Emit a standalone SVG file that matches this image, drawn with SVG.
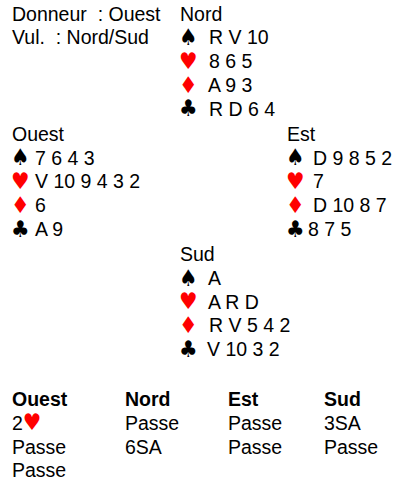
<svg xmlns="http://www.w3.org/2000/svg" width="398" height="484" viewBox="0 0 398 484">
<style>
text{font-family:"Liberation Sans",Arial,sans-serif;font-size:19.5px;fill:#000;white-space:pre}
.s{font-family:"DejaVu Sans Condensed","DejaVu Sans",sans-serif;font-size:23px}
.r{fill:#ff0000}
.b{font-weight:bold}
</style>
<rect width="398" height="484" fill="#fff"/>
<g id="info">
<text x="12" y="20.5">Donneur  : Ouest</text>
<text x="12" y="44.3">Vul.  : Nord/Sud</text>
</g>
<g id="nord">
<text x="180" y="20.5">Nord</text>
<text class="s" x="179" y="45">♠</text><text x="209" y="44.3">R V 10</text>
<text class="s r" x="179" y="68.8">♥</text><text x="209" y="68.1">8 6 5</text>
<text class="s r" x="179" y="92.6">♦</text><text x="208" y="91.9">A 9 3</text>
<text class="s" x="179" y="116.4">♣</text><text x="209" y="115.7">R D 6 4</text>
</g>
<g id="ouest">
<text x="12" y="140.7">Ouest</text>
<text class="s" x="11" y="165.2">♠</text><text x="35" y="164.5">7 6 4 3</text>
<text class="s r" x="11" y="189">♥</text><text x="35" y="188.3">V 10 9 4 3 2</text>
<text class="s r" x="11" y="212.8">♦</text><text x="35" y="212.1">6</text>
<text class="s" x="11" y="236.6">♣</text><text x="35" y="235.9">A 9</text>
</g>
<g id="est">
<text x="287" y="140.7">Est</text>
<text class="s" x="286" y="165.2">♠</text><text x="313" y="164.5">D 9 8 5 2</text>
<text class="s r" x="286" y="189">♥</text><text x="313" y="188.3">7</text>
<text class="s r" x="286" y="212.8">♦</text><text x="313" y="212.1">D 10 8 7</text>
<text class="s" x="286" y="236.6">♣</text><text x="308" y="235.9">8 7 5</text>
</g>
<g id="sud">
<text x="180" y="261">Sud</text>
<text class="s" x="179" y="285.5">♠</text><text x="208" y="284.8">A</text>
<text class="s r" x="179" y="309.3">♥</text><text x="208" y="308.6">A R D</text>
<text class="s r" x="179" y="333.1">♦</text><text x="209" y="332.4">R V 5 4 2</text>
<text class="s" x="179" y="356.9">♣</text><text x="207" y="356.2">V 10 3 2</text>
</g>
<g id="encheres">
<text class="b" x="12" y="406">Ouest</text>
<text class="b" x="125" y="406">Nord</text>
<text class="b" x="228" y="406">Est</text>
<text class="b" x="324" y="406">Sud</text>
<text x="12" y="430">2<tspan class="s r">♥</tspan></text>
<text x="125" y="430">Passe</text>
<text x="228" y="430">Passe</text>
<text x="324" y="430">3SA</text>
<text x="12" y="453.5">Passe</text>
<text x="125" y="453.5">6SA</text>
<text x="228" y="453.5">Passe</text>
<text x="324" y="453.5">Passe</text>
<text x="12" y="477">Passe</text>
</g>
</svg>
